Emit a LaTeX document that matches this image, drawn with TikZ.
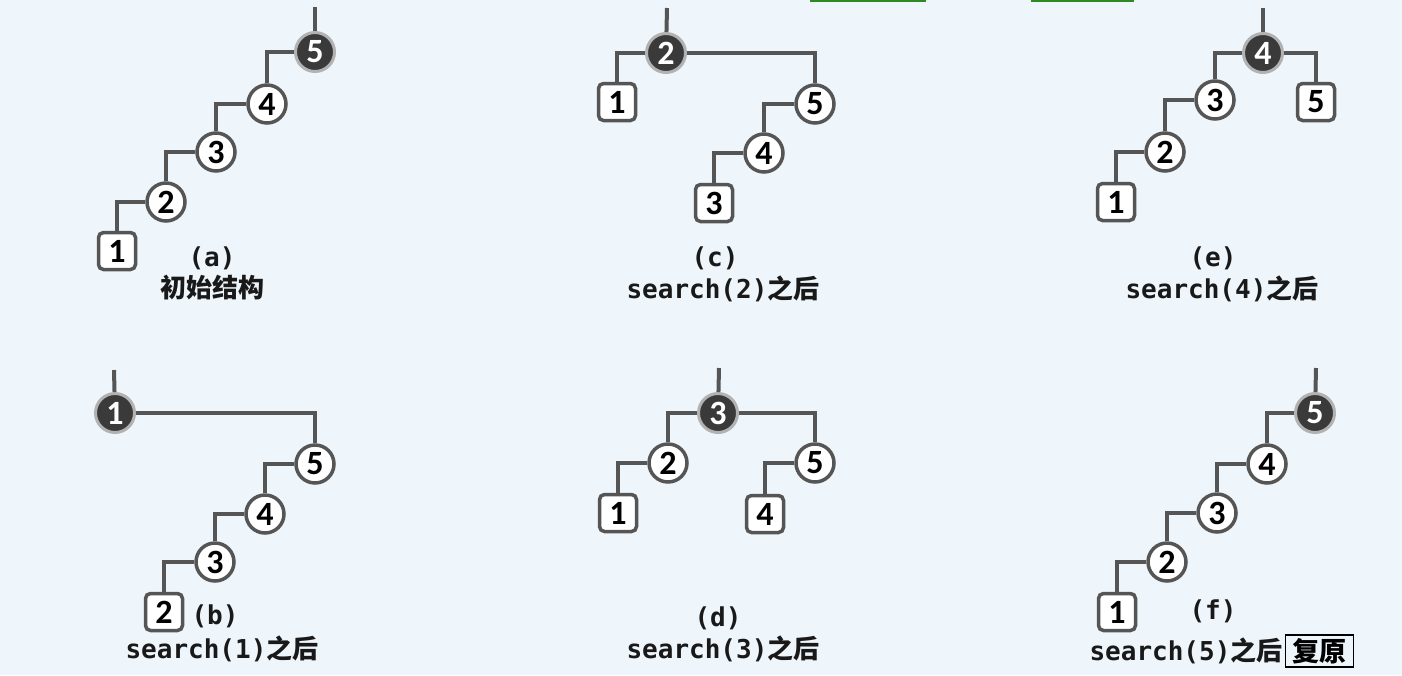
\documentclass[tikz,border=0pt]{standalone}
\usepackage{fontspec}
\setmainfont{Carlito}
\newfontfamily\monofont{DejaVu Sans Mono}
\newfontfamily\cjkfont{Noto Sans CJK SC}[BoldFont=Noto Sans CJK SC Black]
\usetikzlibrary{positioning}
\definecolor{bg}{HTML}{EEF6FB}
\definecolor{edgegray}{HTML}{555555}
\definecolor{rootfill}{HTML}{3A3A3A}
\definecolor{bargreen}{HTML}{2E8B22}
\tikzset{
  keyfont/.style={font=\fontsize{34}{34}\selectfont\bfseries},
  inner/.style={circle, draw=edgegray, line width=3.5pt, fill=white, minimum size=38pt, inner sep=0pt, keyfont},
  root/.style={circle, draw=black!30, line width=3pt, fill=rootfill, text=white, minimum size=39pt, inner sep=0pt, keyfont},
  leaf/.style={rectangle, rounded corners=5pt, draw=edgegray, line width=3.5pt, fill=white, minimum size=37pt, inner sep=0pt, keyfont},
  link/.style={draw=edgegray, line width=4pt},
  tag/.style={font=\fontsize{26}{26}\selectfont\monofont\bfseries, text=black!90, inner sep=1pt},
  restored/.style={draw=black, line width=1.5pt, inner xsep=7pt, inner ysep=3pt, font=\fontsize{27}{27}\selectfont\cjkfont\bfseries},
}

\begin{document}
\begin{tikzpicture}[x=1pt,y=-1pt]
\useasboundingbox (0,0) rectangle (1402,675);
\fill[bg] (0,0) rectangle (1402,675);
\fill[bargreen] (810,0) rectangle (926,1.5);
\fill[bargreen] (1031,0) rectangle (1134,1.5);

% (a)
\node[root] (a5) at (315,52) {5};
\node[inner] (a4) at (267,104) {4};
\node[inner] (a3) at (216,152) {3};
\node[inner] (a2) at (166,202) {2};
\node[leaf] (a1) at (117,251) {1};
\coordinate (a0) at (315,7);
\draw[link] (a0) -- (a5);
\draw[link] (a4) |- (a5);
\draw[link] (a3) |- (a4);
\draw[link] (a2) |- (a3);
\draw[link] (a1) |- (a2);
\node[tag] (ta) at (212,258) {(a)};
\node[tag] (na) at (212,288) {\cjkfont 初始结构};

% (b)
\node[root] (b1) at (115,413) {1};
\node[inner] (b5) at (315,464) {5};
\node[inner] (b4) at (265,514) {4};
\node[inner] (b3) at (215,562) {3};
\node[leaf] (b2) at (164,612) {2};
\coordinate (b0) at (114,370);
\draw[link] (b0) -- (b1);
\draw[link] (b1) -| (b5);
\draw[link] (b4) |- (b5);
\draw[link] (b3) |- (b4);
\draw[link] (b2) |- (b3);
\node[tag] (tb) at (215,616) {(b)};
\node[tag] (nb) at (222,649) {search(1)\cjkfont 之后};

% (c)
\node[root] (c2) at (666,53) {2};
\node[leaf] (c1) at (617,102) {1};
\node[inner] (c5) at (815,104) {5};
\node[inner] (c4) at (764,153) {4};
\node[leaf] (c3) at (714,203) {3};
\coordinate (c0) at (667,8);
\draw[link] (c0) -- (c2);
\draw[link] (c1) |- (c2);
\draw[link] (c2) -| (c5);
\draw[link] (c4) |- (c5);
\draw[link] (c3) |- (c4);
\node[tag] (tc) at (715,258) {(c)};
\node[tag] (nc) at (723,289) {search(2)\cjkfont 之后};

% (d)
\node[root] (d3) at (718,413) {3};
\node[inner] (d2) at (668,463) {2};
\node[inner] (d5) at (815,463) {5};
\node[leaf] (d1) at (618,513) {1};
\node[leaf] (d4) at (765,514) {4};
\coordinate (d0) at (719,368);
\draw[link] (d0) -- (d3);
\draw[link] (d2) |- (d3);
\draw[link] (d3) -| (d5);
\draw[link] (d1) |- (d2);
\draw[link] (d4) |- (d5);
\node[tag] (td) at (718,618) {(d)};
\node[tag] (nd) at (723,649) {search(3)\cjkfont 之后};

% (e)
\node[root] (e4) at (1263,53) {4};
\node[leaf] (e5) at (1316,102) {5};
\node[inner] (e3) at (1215,100) {3};
\node[inner] (e2) at (1165,152) {2};
\node[leaf] (e1) at (1116,202) {1};
\coordinate (e0) at (1263,8);
\draw[link] (e0) -- (e4);
\draw[link] (e3) |- (e4);
\draw[link] (e4) -| (e5);
\draw[link] (e2) |- (e3);
\draw[link] (e1) |- (e2);
\node[tag] (te) at (1213,258) {(e)};
\node[tag] (ne) at (1222,289) {search(4)\cjkfont 之后};

% (f)
\node[root] (f5) at (1315,413) {5};
\node[inner] (f4) at (1267,464) {4};
\node[inner] (f3) at (1217,513) {3};
\node[inner] (f2) at (1167,562) {2};
\node[leaf] (f1) at (1117,612) {1};
\coordinate (f0) at (1316,368);
\draw[link] (f0) -- (f5);
\draw[link] (f4) |- (f5);
\draw[link] (f3) |- (f4);
\draw[link] (f2) |- (f3);
\draw[link] (f1) |- (f2);
\node[tag] (tf) at (1213,611) {(f)};
\node[tag] (nf) at (1186,651) {search(5)\cjkfont 之后};
\node[restored, right=1pt of nf] (rf) {复原};
\end{tikzpicture}
\end{document}
